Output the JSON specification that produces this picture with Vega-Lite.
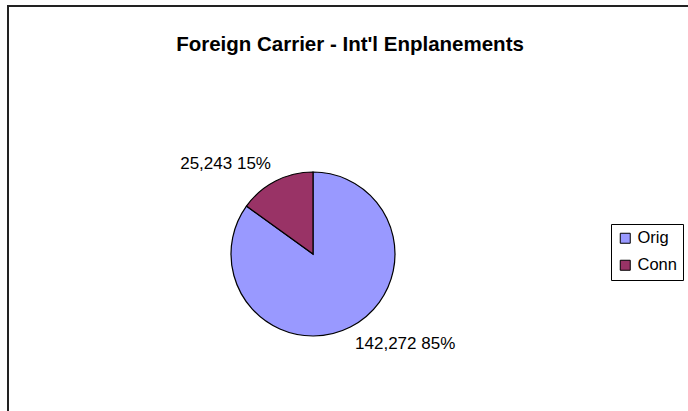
{
  "$schema": "https://vega.github.io/schema/vega-lite/v6.json",
  "width": 688,
  "height": 411,
  "autosize": {"type": "fit", "contains": "padding"},
  "padding": {"left": 8, "top": 6, "right": -4, "bottom": -4},
  "background": "white",
  "view": {"stroke": "#222222", "strokeWidth": 2, "fill": "white"},
  "title": {
    "text": "Foreign Carrier - Int'l Enplanements",
    "font": "Liberation Sans",
    "fontSize": 20.5,
    "fontWeight": "bold",
    "color": "black",
    "anchor": "middle",
    "offset": -49
  },
  "config": {
    "view": {"stroke": "#222222", "strokeWidth": 2},
    "font": "Liberation Sans"
  },
  "data": {
    "values": [
      {"cat": "Orig", "value": 142272, "label": "142,272 85%", "rank": 1},
      {"cat": "Conn", "value": 25243, "label": "25,243 15%", "rank": 2}
    ]
  },
  "encoding": {
    "theta": {"field": "value", "type": "quantitative", "stack": true},
    "order": {"field": "rank", "type": "ordinal"}
  },
  "layer": [
    {
      "mark": {"type": "arc", "radius": 82, "stroke": "black", "strokeWidth": 1.2, "xOffset": -37, "yOffset": 43.5},
      "encoding": {
        "color": {
          "field": "cat",
          "type": "nominal",
          "scale": {"domain": ["Orig", "Conn"], "range": ["#9999FF", "#993366"]},
          "legend": {
            "title": null,
            "orient": "none",
            "legendX": 603,
            "legendY": 218,
            "strokeColor": "black",
            "fillColor": "white",
            "padding": 6,
            "cornerRadius": 0,
            "symbolType": "square",
            "symbolSize": 100,
            "symbolStrokeColor": "black",
            "symbolStrokeWidth": 1,
            "labelFontSize": 16.5,
            "labelFont": "Liberation Sans",
            "labelColor": "black",
            "rowPadding": 10,
            "labelOffset": 4
          }
        }
      }
    },
    {
      "mark": {
        "type": "text",
        "radius": 101,
        "xOffset": -37,
        "yOffset": 43.5,
        "fontSize": 17,
        "font": "Liberation Sans",
        "color": "black",
        "baseline": "middle",
        "align": {"expr": "datum.cat === 'Orig' ? 'left' : 'right'"},
        "dx": {"expr": "datum.cat === 'Orig' ? -4 : 4"}
      },
      "encoding": {
        "text": {"field": "label"}
      }
    }
  ]
}
